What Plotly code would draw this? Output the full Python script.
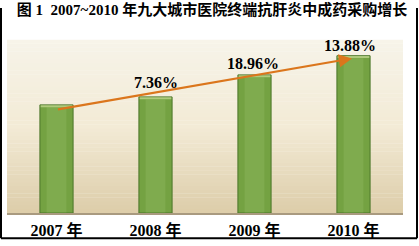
import plotly.graph_objects as go

# ---- data ----
years = ["2007 年", "2008 年", "2009 年", "2010 年"]
purchase_index = [100.0, 107.36, 127.72, 145.45]   # relative purchase level (2007 = 100)
growth_labels = ["", "7.36%", "18.96%", "13.88%"]
title_text = "图 1  2007~2010 年九大城市医院终端抗肝炎中成药采购增长"

W, H = 419, 246
L, R, T, B = 7, 16, 40, 27
pw, ph = W - L - R, H - T - B

xs = list(range(len(years)))

fig = go.Figure()
fig.add_trace(go.Bar(
    x=xs, y=purchase_index, width=0.335,
    marker=dict(color="#74a242", line=dict(color="#4b7529", width=1)),
    hoverinfo="skip", showlegend=False,
))

shapes = []
# gradient background of plot panel
top_c = (247, 244, 233)
mid_c = (243, 235, 214)
bot_c = (222, 206, 170)
n = 45
for i in range(n):
    f = i / (n - 1)  # 0 bottom -> 1 top
    if f < 0.5:
        g = f / 0.5
        c = tuple(int(bot_c[k] + (mid_c[k] - bot_c[k]) * g) for k in range(3))
    else:
        g = (f - 0.5) / 0.5
        c = tuple(int(mid_c[k] + (top_c[k] - mid_c[k]) * g) for k in range(3))
    shapes.append(dict(type="rect", xref="paper", yref="paper", layer="below",
                       x0=0, x1=1, y0=i / n, y1=(i + 1) / n + 0.002,
                       fillcolor="rgb(%d,%d,%d)" % c, line=dict(width=0)))
# bar shading: lighter centre and light top cap
for x, v in zip(xs, purchase_index):
    shapes.append(dict(type="rect", xref="x", yref="y", layer="above",
                       x0=x - 0.10, x1=x + 0.10, y0=0.5, y1=v - 2.3,
                       fillcolor="rgba(150,190,100,0.35)", line=dict(width=0)))
    shapes.append(dict(type="rect", xref="x", yref="y", layer="above",
                       x0=x - 0.16, x1=x + 0.16, y0=v - 2.2, y1=v - 0.3,
                       fillcolor="rgba(200,220,150,0.7)", line=dict(width=0)))
# outer frame
def px_x(p):
    return (p - L) / pw
def px_y(p):
    return (H - B - p) / ph
for (x0, y0, x1, y1) in [(1, 7, 1, 245), (417, 7, 417, 245), (1, 245, 417, 245)]:
    shapes.append(dict(type="line", xref="paper", yref="paper",
                       x0=px_x(x0), y0=px_y(y0), x1=px_x(x1), y1=px_y(y1),
                       line=dict(color="black", width=2)))

annotations = []
# trend arrow from first to last bar
annotations.append(dict(
    x=xs[-1] - 0.015, y=purchase_index[-1] * 0.983, xref="x", yref="y",
    ax=xs[0], ay=purchase_index[0] * 0.956, axref="x", ayref="y",
    showarrow=True, arrowhead=2, arrowsize=1.2, arrowwidth=2.2,
    arrowcolor="#db761c", text="",
))
label_shift = [0, 4, 1, 0]
label_dx = [0, 0, -2, -4]
for x, v, t, s, dx in zip(xs, purchase_index, growth_labels, label_shift, label_dx):
    if not t:
        continue
    annotations.append(dict(
        x=x, y=v, xref="x", yref="y", text="<b>%s</b>" % t, showarrow=False,
        yanchor="bottom", yshift=s, xshift=dx,
        font=dict(family="Liberation Serif, serif", size=16, color="black"),
    ))

fig.update_layout(
    width=W, height=H,
    margin=dict(l=L, r=R, t=T, b=B),
    paper_bgcolor="white", plot_bgcolor="rgba(0,0,0,0)",
    title=dict(text="<b>%s</b>" % title_text, x=0.506, xref="container",
               xanchor="center", y=1 - 9.5 / H, yref="container", yanchor="middle",
               font=dict(family="Liberation Serif, Noto Sans CJK SC, serif", size=15, color="black")),
    xaxis=dict(range=[-0.5, len(years) - 0.5], tickvals=xs, ticktext=["<b>%s</b>" % y for y in years],
               showgrid=False, zeroline=False, showline=True, linecolor="#a99a7f", linewidth=2,
               ticks="", ticklabelstandoff=2,
               tickfont=dict(family="Liberation Serif, Noto Sans CJK SC, serif", size=16, color="black")),
    yaxis=dict(range=[0, 160], visible=False, showgrid=False),
    shapes=shapes, annotations=annotations,
    bargap=0.5,
)

fig.write_html("out.html")
